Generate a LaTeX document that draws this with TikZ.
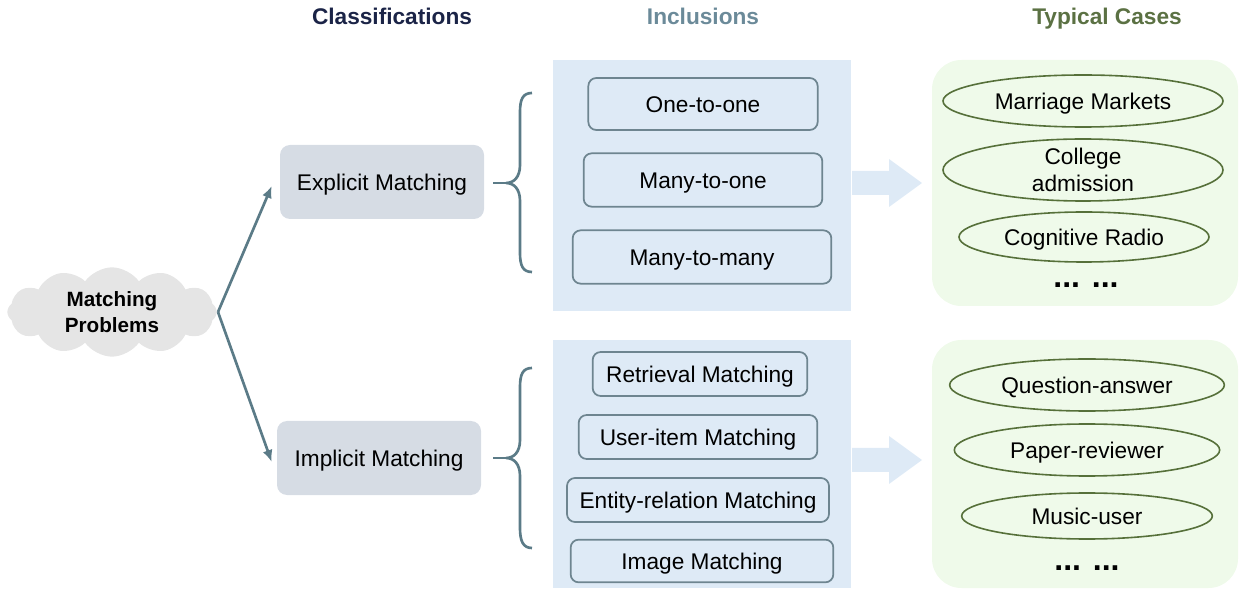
\documentclass[tikz,border=0pt]{standalone}
\usepackage{fontspec}
\setmainfont{Liberation Sans}
\usetikzlibrary{shapes.geometric,shapes.symbols,arrows.meta,calc}
\definecolor{hdrA}{HTML}{1B2447}
\definecolor{hdrB}{HTML}{6B8A99}
\definecolor{hdrC}{HTML}{5B7143}
\definecolor{slate}{HTML}{5B7B87}
\definecolor{clsfill}{HTML}{D6DCE4}
\definecolor{panelblue}{HTML}{DEEAF6}
\definecolor{incdraw}{HTML}{6E8590}
\definecolor{panelgreen}{HTML}{EFFAEA}
\definecolor{casedraw}{HTML}{56703A}
\definecolor{cloudgray}{HTML}{E5E5E5}
\begin{document}
\begin{tikzpicture}[x=0.75pt,y=-0.75pt,
  hdr/.style={font=\fontsize{17}{20}\selectfont\bfseries, anchor=base},
  txt/.style={font=\fontsize{17}{20}\selectfont},
  oneline/.style={text height=13.2pt, text depth=0pt},
  classbox/.style={txt, oneline, fill=clsfill, rounded corners=7.5pt, minimum width=153pt, minimum height=55.5pt},
  incbox/.style={txt, oneline, draw=incdraw, line width=1.3pt, fill=panelblue, rounded corners=6pt, inner sep=0pt},
  panelB/.style={fill=panelblue, inner sep=0pt},
  panelG/.style={fill=panelgreen, rounded corners=22pt, inner sep=0pt},
  case/.style={txt, ellipse, draw=casedraw, line width=1.2pt, inner sep=0pt, align=center},
  conn/.style={draw=slate, line width=2pt, -{Latex[length=9pt,width=7.5pt]}},
  brc/.style={draw=slate, line width=2pt},
  blockarrow/.style={fill=panelblue},
  dotstxt/.style={font=\fontsize{24}{26}\selectfont\bfseries, inner sep=0pt}
]
\useasboundingbox (0,0) rectangle (1239,591);

% headers
\node[hdr, text=hdrA] (hA) at (392,25) {Classifications};
\node[hdr, text=hdrB] (hB) at (703,25) {Inclusions};
\node[hdr, text=hdrC] (hC) at (1107,25) {Typical Cases};

% panels
\node[panelB, minimum width=223.5pt, minimum height=188.25pt] (incA) at (702,185.5) {};
\node[panelB, minimum width=223.5pt, minimum height=186pt] (incB) at (702,464) {};
\node[panelG, minimum width=229.5pt, minimum height=184.5pt] (caseA) at (1085,183) {};
\node[panelG, minimum width=229.5pt, minimum height=186pt] (caseB) at (1085,464) {};

% block arrows
\fill[blockarrow] (852,171) -- (889,171) -- (889,159) -- (922,183) -- (889,207) -- (889,195) -- (852,195) -- cycle;
\fill[blockarrow] (852,448) -- (889,448) -- (889,436) -- (922,460) -- (889,484) -- (889,472) -- (852,472) -- cycle;

% cloud
\node[cloud, cloud puffs=12, cloud puff arc=110, aspect=2.4, fill=cloudgray,
      minimum width=157pt, minimum height=67pt, inner sep=0pt,
      font=\fontsize{15.5}{19}\selectfont\bfseries, align=center] (cloud) at (112,312) {Matching\\Problems};
\coordinate (fork) at (218,312);

% classification boxes
\node[classbox] (expl) at (382,182) {Explicit Matching};
\node[classbox] (impl) at (379,458) {Implicit Matching};

\draw[conn] (fork) -- ($(expl.west)+(-8,4)$);
\draw[conn] (fork) -- ($(impl.west)+(-5,4)$);

% braces
\draw[brc] (532,93) .. controls (523,93) and (520,99) .. (520,112) -- (520,165)
  .. controls (520,177) and (514,183) .. (506,183)
  .. controls (514,183) and (520,189) .. (520,201) -- (520,253)
  .. controls (520,266) and (523,272) .. (532,272);
\draw[brc] (506,183) -- (493,183);
\draw[brc] (532,368) .. controls (523,368) and (520,374) .. (520,387) -- (520,440)
  .. controls (520,452) and (514,458) .. (506,458)
  .. controls (514,458) and (520,464) .. (520,476) -- (520,528)
  .. controls (520,541) and (523,548) .. (532,548);
\draw[brc] (506,458) -- (493,458);

% inclusion boxes
\node[incbox, minimum width=172pt, minimum height=39pt] (i1) at (703,104) {One-to-one};
\node[incbox, minimum width=179pt, minimum height=40pt] (i2) at (703,180) {Many-to-one};
\node[incbox, minimum width=194pt, minimum height=40pt] (i3) at (702,257) {Many-to-many};
\node[incbox, minimum width=161pt, minimum height=33pt] (i4) at (700,374) {Retrieval Matching};
\node[incbox, minimum width=179pt, minimum height=33pt] (i5) at (698,437) {User-item Matching};
\node[incbox, minimum width=196.5pt, minimum height=33pt] (i6) at (698,500) {Entity-relation Matching};
\node[incbox, minimum width=197pt, minimum height=32pt] (i7) at (702,561) {Image Matching};

% typical cases
\node[case, oneline, minimum width=210pt, minimum height=39pt] (c1) at (1083,101) {Marriage Markets};
\node[case, minimum width=210pt, minimum height=46.5pt, inner sep=-6pt] (c2) at (1083,170) {College\\admission};
\node[case, oneline, minimum width=187.5pt, minimum height=37.5pt] (c3) at (1084,237) {Cognitive Radio};
\node[dotstxt, anchor=base] (d1) at (1086,288) {... ...};
\node[case, oneline, minimum width=206pt, minimum height=39pt] (c4) at (1087,385) {Question-answer};
\node[case, oneline, minimum width=199pt, minimum height=39pt] (c5) at (1087,450) {Paper-reviewer};
\node[case, oneline, minimum width=188pt, minimum height=34.5pt] (c6) at (1087,516) {Music-user};
\node[dotstxt, anchor=base] (d2) at (1087,570) {... ...};
\end{tikzpicture}
\end{document}
